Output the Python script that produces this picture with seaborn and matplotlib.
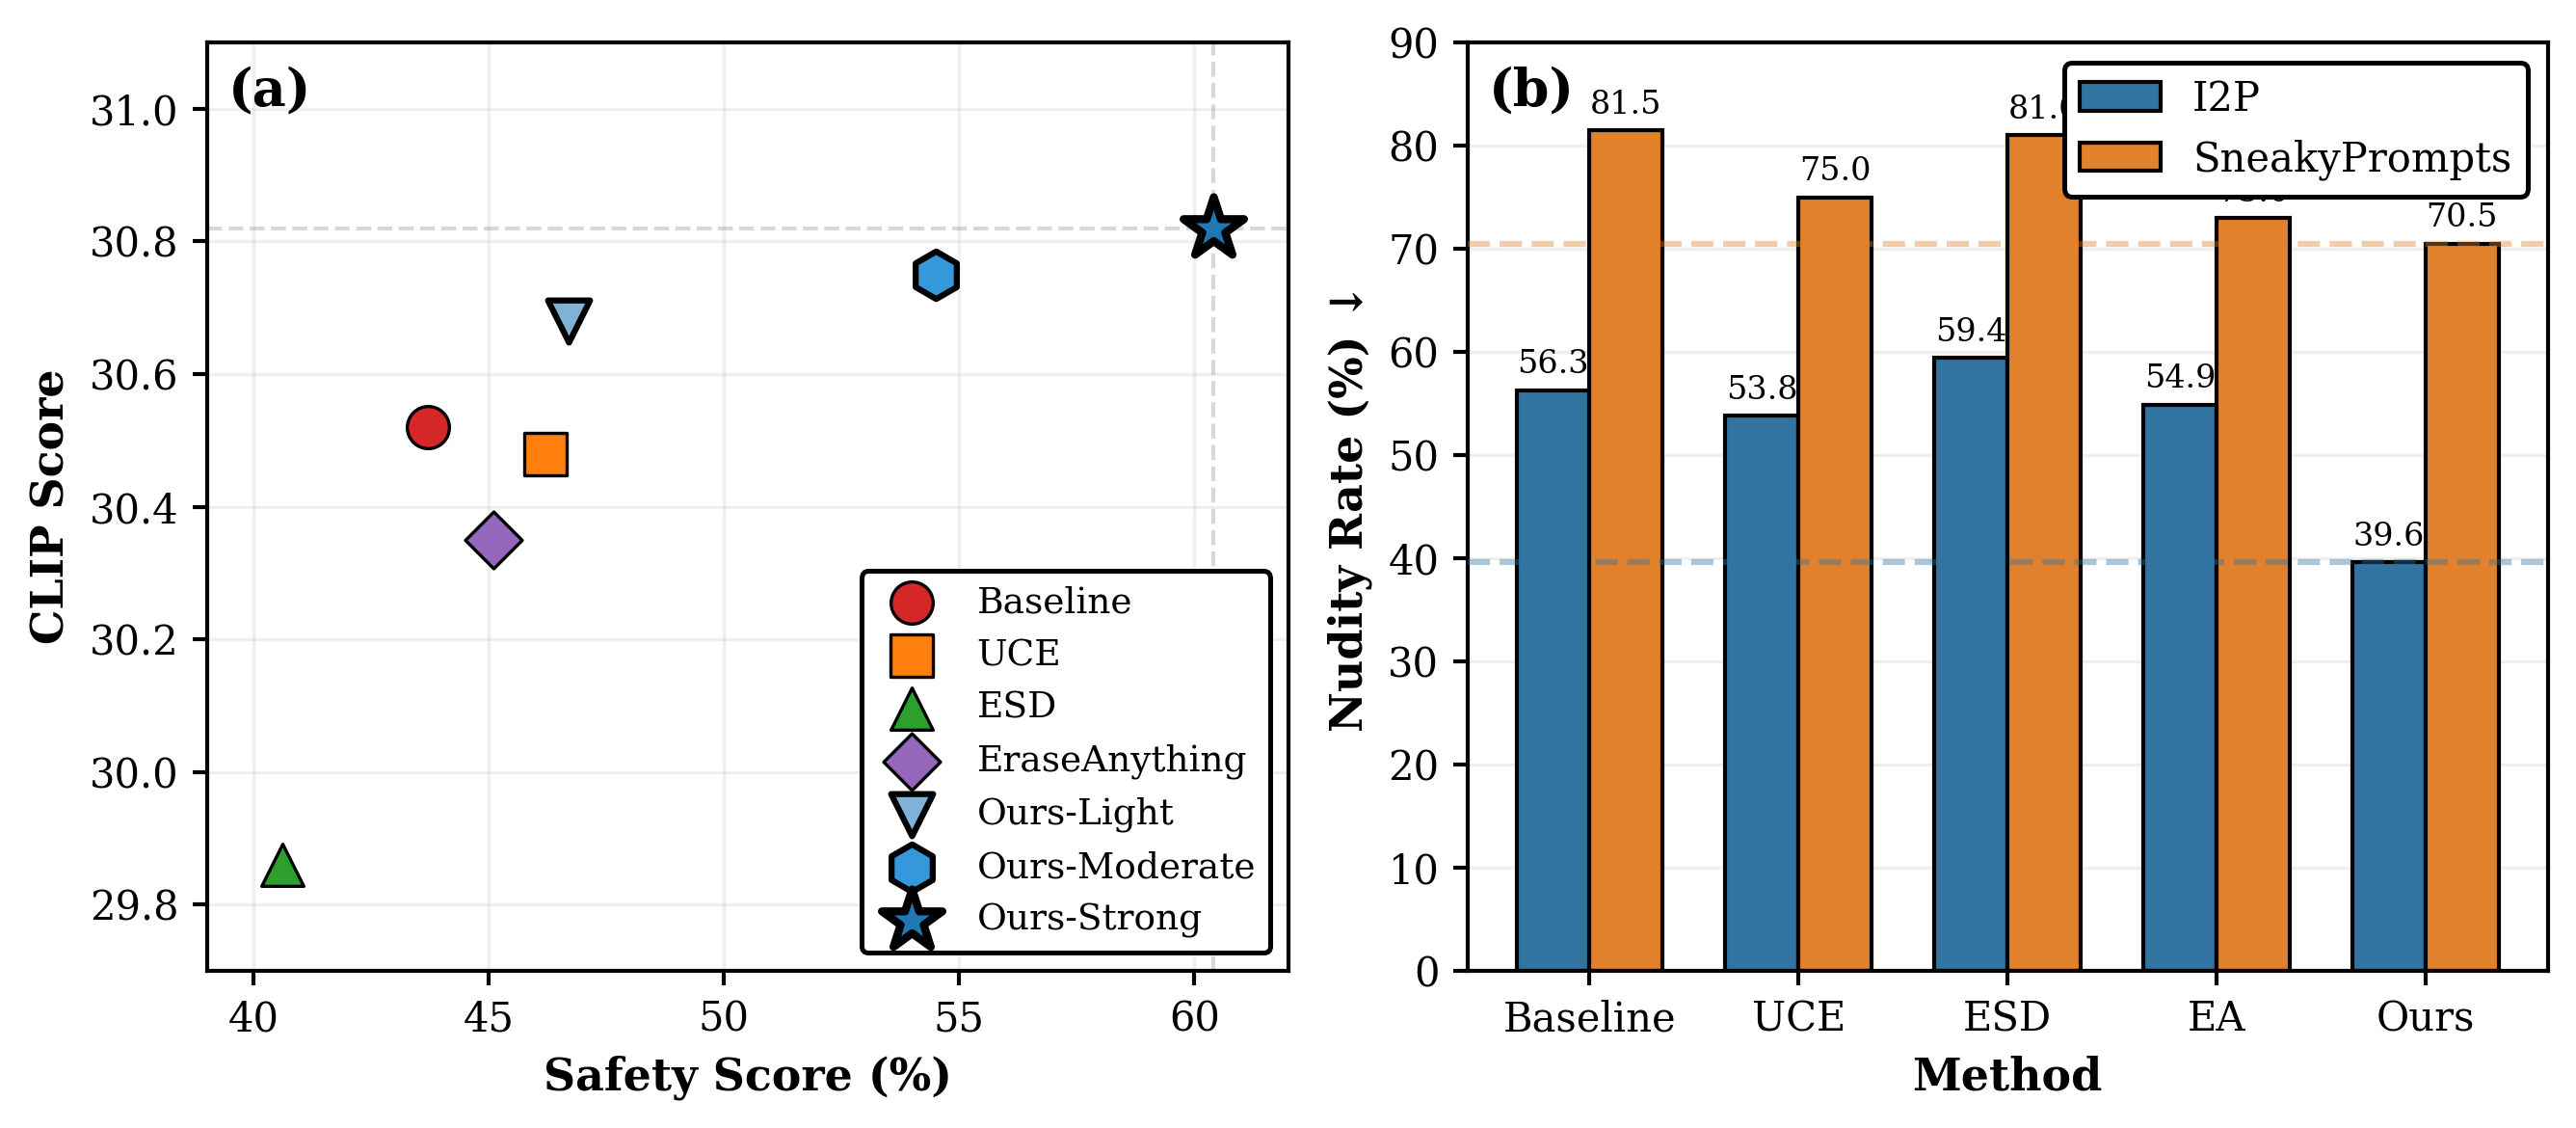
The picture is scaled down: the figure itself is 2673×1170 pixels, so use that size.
import numpy as np
import pandas as pd
import matplotlib
matplotlib.use("Agg")
import matplotlib.pyplot as plt
import seaborn as sns

# ---------------- data ----------------
methods_a = ["Baseline", "UCE", "ESD", "EraseAnything", "Ours-Light", "Ours-Moderate", "Ours-Strong"]
safety = [43.7, 46.2, 40.6, 45.1, 46.7, 54.5, 60.4]
clip = [30.52, 30.48, 29.86, 30.35, 30.68, 30.75, 30.82]

methods_b = ["Baseline", "UCE", "ESD", "EA", "Ours"]
i2p = [56.3, 53.8, 59.4, 54.9, 39.6]
sneaky = [81.5, 75.0, 81.0, 73.0, 70.5]

# ---------------- style ----------------
sns.set_style("ticks")
plt.rcParams["font.family"] = ["DejaVu Serif"]
plt.rcParams["text.color"] = "black"
plt.rcParams["axes.labelcolor"] = "black"
plt.rcParams["axes.edgecolor"] = "black"
plt.rcParams["axes.linewidth"] = 1.0
plt.rcParams["xtick.color"] = "black"
plt.rcParams["ytick.color"] = "black"
plt.rcParams["xtick.major.width"] = 1.0
plt.rcParams["ytick.major.width"] = 1.0
plt.rcParams["xtick.major.size"] = 3.5
plt.rcParams["ytick.major.size"] = 3.5

fig = plt.figure(figsize=(2673 / 300, 1170 / 300), dpi=300)
ax1 = fig.add_axes([0.0803, 0.1393, 0.4198, 0.823])
ax2 = fig.add_axes([0.5696, 0.1393, 0.4195, 0.823])

# ---------------- panel (a) ----------------
markers = ["o", "s", "^", "D", "v", "h", "*"]
colors = ["#d62728", "#ff7f0e", "#2ca02c", "#9467bd", "#7fb2d6", "#3498db", "#1f77b4"]
sizes = [110, 110, 110, 100, 110, 140, 250]
lws = [0.8, 0.8, 0.8, 0.8, 1.5, 1.5, 2.0]

ax1.axhline(clip[-1], color="gray", alpha=0.3, lw=1.0, ls="--", zorder=1)
ax1.axvline(safety[-1], color="gray", alpha=0.3, lw=1.0, ls="--", zorder=1)

for m, x, y, mk, c, s, lw in zip(methods_a, safety, clip, markers, colors, sizes, lws):
    sns.scatterplot(x=[x], y=[y], marker=mk, s=s, color=c, edgecolor="black",
                    linewidth=lw, label=m, ax=ax1, zorder=3)

ax1.set_xlim(39, 62)
ax1.set_ylim(29.7, 31.1)
ax1.grid(True, alpha=0.3)
ax1.set_axisbelow(True)
ax1.set_xlabel("Safety Score (%)", fontsize=11, fontweight="bold")
ax1.set_ylabel("CLIP Score", fontsize=11, fontweight="bold")
ax1.tick_params(labelsize=10)
leg1 = ax1.legend(loc="lower right", fontsize=9, frameon=True, framealpha=1,
                  edgecolor="black", fancybox=True, labelspacing=0.5)
leg1.get_frame().set_linewidth(1.2)
ax1.text(0.02, 0.975, "(a)", transform=ax1.transAxes, fontsize=13,
         fontweight="bold", va="top", ha="left")

# ---------------- panel (b) ----------------
df = pd.DataFrame({
    "Method": methods_b * 2,
    "Rate": i2p + sneaky,
    "Dataset": ["I2P"] * len(methods_b) + ["SneakyPrompts"] * len(methods_b),
})
sns.barplot(data=df, x="Method", y="Rate", hue="Dataset",
            palette=["#1f77b4", "#ff7f0e"], width=0.7, edgecolor="black",
            linewidth=1.0, ax=ax2, zorder=2)
for cont in ax2.containers:
    ax2.bar_label(cont, fmt="%.1f", padding=2.5, fontsize=8)

ax2.axhline(i2p[-1], color="#3274a1", alpha=0.4, lw=1.5, ls="--", zorder=3)
ax2.axhline(sneaky[-1], color="#e1812c", alpha=0.4, lw=1.5, ls="--", zorder=3)

ax2.set_xlim(-0.585, 4.585)
ax2.set_ylim(0, 90)
ax2.set_yticks(np.arange(0, 91, 10))
ax2.grid(True, axis="y", alpha=0.3)
ax2.set_axisbelow(True)
ax2.set_xlabel("Method", fontsize=11, fontweight="bold")
ax2.set_ylabel("Nudity Rate (%) ↓", fontsize=11, fontweight="bold")
ax2.tick_params(labelsize=10)
leg2 = ax2.legend(loc="upper right", fontsize=10, frameon=True, framealpha=1,
                  edgecolor="black", fancybox=True, title=None)
leg2.get_frame().set_linewidth(1.2)
leg2.set_zorder(5)
ax2.text(0.02, 0.975, "(b)", transform=ax2.transAxes, fontsize=13,
         fontweight="bold", va="top", ha="left")

fig.savefig("out.png", dpi=300)
